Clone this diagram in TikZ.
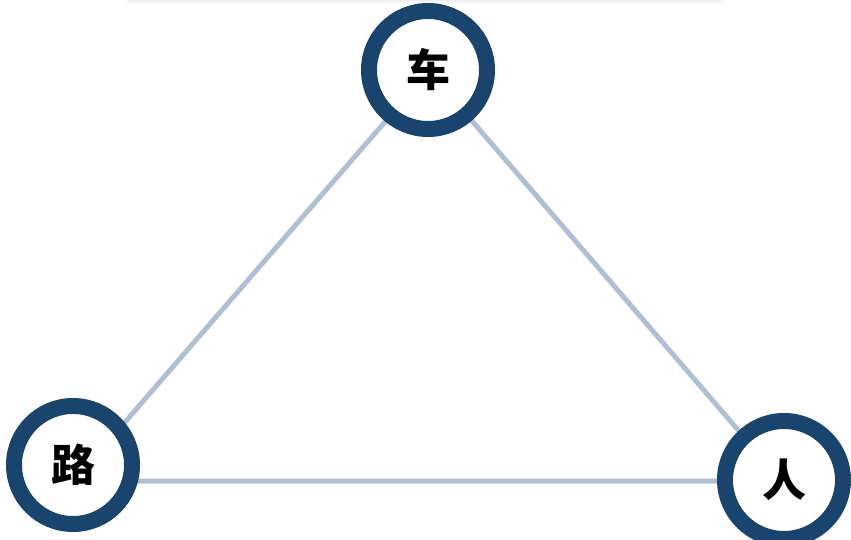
\documentclass[tikz,border=0pt]{standalone}
\usepackage{fontspec}
\newfontfamily\cjk{Noto Sans CJK SC}
\definecolor{ringblue}{HTML}{18446E}
\definecolor{linkblue}{HTML}{AFC0D5}
\begin{document}
\begin{tikzpicture}[x=1pt,y=-1pt,
  ring/.style={circle,draw=ringblue,line width=16pt,fill=white,minimum size=118pt,inner sep=0pt,font=\cjk\bfseries\fontsize{44}{44}\selectfont},
  link/.style={draw=linkblue,line width=5pt}]
\useasboundingbox (0,0) rectangle (851,540);
% faint shadow at top
\foreach \o/\w in {0.015/10,0.02/6,0.03/3}{
  \draw[line width=\w pt,black,opacity=\o,line cap=round] (130,0) -- (720,0);
}
\coordinate (vt) at (429,71);
\coordinate (vl) at (74,481);
\coordinate (vr) at (782,481);
\draw[link] (vt) -- (vl) -- (vr) -- cycle;
\node[ring] (che) at (428,70) {车};
\node[ring] (lu) at (73,465) {路};
\node[ring] (ren) at (784,480) {人};
\end{tikzpicture}
\end{document}
